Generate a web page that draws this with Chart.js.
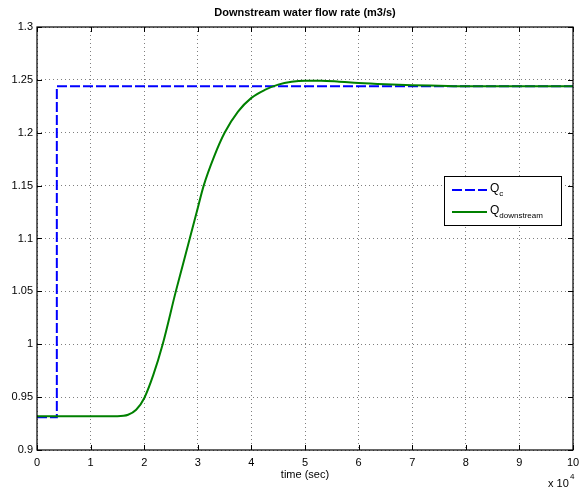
<!DOCTYPE html>
<html>
<head>
<meta charset="utf-8">
<script src="https://cdn.jsdelivr.net/npm/chart.js@4/dist/chart.umd.min.js"></script>
<style>
    html, body { margin: 0; padding: 0; background: #ffffff; }
    canvas { display: block; }
</style>
</head>
<body>
<canvas id="flowChart" width="579" height="490"></canvas>
<script>

/* =========================================
   DATA  (time in units of 10^4 sec)
========================================= */

const qcTime = [0, 0.37, 0.37, 10];
const qcValues = [0.931, 0.931, 1.244, 1.244];

const qdTime = [0, 1.0, 1.5, 1.7, 1.85, 2.0, 2.17, 2.345, 2.59, 2.72, 2.85, 2.98, 3.11, 3.3, 3.5, 3.75,
    4.0, 4.25, 4.5, 4.75, 5.0, 5.3, 5.6, 6.0, 6.5, 7.0, 7.5, 8.0, 9.0, 10];
const qdValues = [0.932, 0.932, 0.932, 0.9333, 0.938, 0.949, 0.971, 1.0, 1.05, 1.075, 1.1, 1.125, 1.15, 1.177, 1.2, 1.22,
    1.233, 1.2405, 1.2455, 1.2482, 1.2492, 1.2492, 1.2485, 1.247, 1.2458, 1.245, 1.2445, 1.244, 1.244, 1.244];

const xTickLabels = ["0", "1", "2", "3", "4", "5", "6", "7", "8", "9", "10"];
const yTickLabels = ["0.9", "0.95", "1", "1.05", "1.1", "1.15", "1.2", "1.25", "1.3"];

const legendMain = ["Q", "Q"];
const legendSub = ["c", "downstream"];

const chartTitle = "Downstream water flow rate (m3/s)";
const xAxisTitle = "time (sec)";

const FONT = "'Liberation Sans', Arial, Helvetica, sans-serif";


/* =========================================
   HELPERS
========================================= */

function toPoints(xs, ys) {
    return xs.map((x, i) => ({ x: x, y: ys[i] }));
}


/* =========================================
   MATLAB STYLE FRAME, TEXT AND LEGEND
========================================= */

const matlabFrame = {

    id: "matlabFrame",

    afterDraw(chart) {

        const ctx = chart.ctx;
        const area = chart.chartArea;
        const xs = chart.scales.x;
        const ys = chart.scales.y;
        const tick = 5;

        ctx.save();

        // box
        ctx.strokeStyle = "#000000";
        ctx.lineWidth = 1.2;
        ctx.strokeRect(area.left, area.top, area.right - area.left, area.bottom - area.top);

        // inward ticks
        ctx.lineWidth = 1;
        ctx.beginPath();
        xs.ticks.forEach(t => {
            const px = Math.round(xs.getPixelForValue(t.value)) + 0.5;
            ctx.moveTo(px, area.bottom);
            ctx.lineTo(px, area.bottom - tick);
            ctx.moveTo(px, area.top);
            ctx.lineTo(px, area.top + tick);
        });
        ys.ticks.forEach(t => {
            const py = Math.round(ys.getPixelForValue(t.value)) + 0.5;
            ctx.moveTo(area.left, py);
            ctx.lineTo(area.left + tick, py);
            ctx.moveTo(area.right, py);
            ctx.lineTo(area.right - tick, py);
        });
        ctx.stroke();

        // title
        ctx.fillStyle = "#000000";
        ctx.textAlign = "center";
        ctx.textBaseline = "middle";
        ctx.font = "bold 11px " + FONT;
        ctx.fillText(chartTitle, (area.left + area.right) / 2, 13);

        // x axis title
        ctx.font = "11px " + FONT;
        ctx.fillText(xAxisTitle, (area.left + area.right) / 2, area.bottom + 25);

        // x 10^4 multiplier
        ctx.textAlign = "left";
        ctx.fillText("x 10", area.right - 25, area.bottom + 34);
        ctx.font = "8px " + FONT;
        ctx.fillText("4", area.right - 3, area.bottom + 27);

        // legend
        const lx = area.right - 129;
        const ly = area.top + 149;
        const lw = 117;
        const lh = 49;

        ctx.fillStyle = "#ffffff";
        ctx.fillRect(lx, ly, lw, lh);
        ctx.strokeStyle = "#000000";
        ctx.lineWidth = 1;
        ctx.strokeRect(lx + 0.5, ly + 0.5, lw, lh);

        chart.data.datasets.forEach((ds, i) => {

            const rowY = ly + 14 + i * 22;

            ctx.strokeStyle = ds.borderColor;
            ctx.lineWidth = ds.borderWidth;
            ctx.setLineDash(ds.borderDash || []);
            ctx.beginPath();
            ctx.moveTo(lx + 8, rowY);
            ctx.lineTo(lx + 43, rowY);
            ctx.stroke();
            ctx.setLineDash([]);

            ctx.fillStyle = "#000000";
            ctx.textAlign = "left";
            ctx.font = "12px " + FONT;
            ctx.fillText(legendMain[i], lx + 46, rowY - 1);
            const w = ctx.measureText(legendMain[i]).width;
            ctx.font = "8px " + FONT;
            ctx.fillText(legendSub[i], lx + 46 + w, rowY + 4);

        });

        ctx.restore();
    }
};


/* =========================================
   CREATE CHART
========================================= */

const ctx = document.getElementById("flowChart").getContext("2d");

const flowChart = new Chart(ctx, {

    type: "line",

    data: {

        datasets: [

            {
                label: "Qc",
                data: toPoints(qcTime, qcValues),
                borderColor: "#0000ff",
                borderWidth: 2,
                borderDash: [10, 3],
                pointRadius: 0,
                fill: false,
                tension: 0,
                order: 2
            },

            {
                label: "Qdownstream",
                data: toPoints(qdTime, qdValues),
                borderColor: "#008000",
                borderWidth: 2,
                pointRadius: 0,
                fill: false,
                cubicInterpolationMode: "monotone",
                order: 1
            }

        ]

    },

    options: {

        responsive: false,
        animation: false,
        events: [],

        layout: {
            padding: { top: 27, right: 6, bottom: 0, left: 0 }
        },

        plugins: {
            legend: { display: false },
            tooltip: { enabled: false },
            title: { display: false }
        },

        scales: {

            x: {
                type: "linear",
                min: 0,
                max: 10,
                afterFit: function (scale) {
                    scale.height = 40;
                    scale.paddingLeft = 0;
                    scale.paddingRight = 0;
                },
                afterBuildTicks: function (scale) {
                    scale.ticks = xTickLabels.map((l, i) => ({ value: i }));
                },
                ticks: {
                    autoSkip: false,
                    maxRotation: 0,
                    padding: 6,
                    color: "#000000",
                    font: { family: FONT, size: 11 },
                    callback: function (value, index) {
                        return xTickLabels[index];
                    }
                },
                grid: {
                    color: "rgba(0,0,0,0.5)",
                    lineWidth: 1,
                    drawTicks: false
                },
                border: {
                    display: false,
                    dash: [1, 3]
                }
            },

            y: {
                type: "linear",
                min: 0.9,
                max: 1.3,
                afterFit: function (scale) {
                    scale.width = 37;
                },
                afterBuildTicks: function (scale) {
                    scale.ticks = yTickLabels.map(l => ({ value: parseFloat(l) }));
                },
                ticks: {
                    autoSkip: false,
                    padding: 4,
                    color: "#000000",
                    font: { family: FONT, size: 11 },
                    callback: function (value, index) {
                        return yTickLabels[index];
                    }
                },
                grid: {
                    color: "rgba(0,0,0,0.5)",
                    lineWidth: 1,
                    drawTicks: false
                },
                border: {
                    display: false,
                    dash: [1, 3]
                }
            }

        }

    },

    plugins: [matlabFrame]

});

</script>
</body>
</html>
